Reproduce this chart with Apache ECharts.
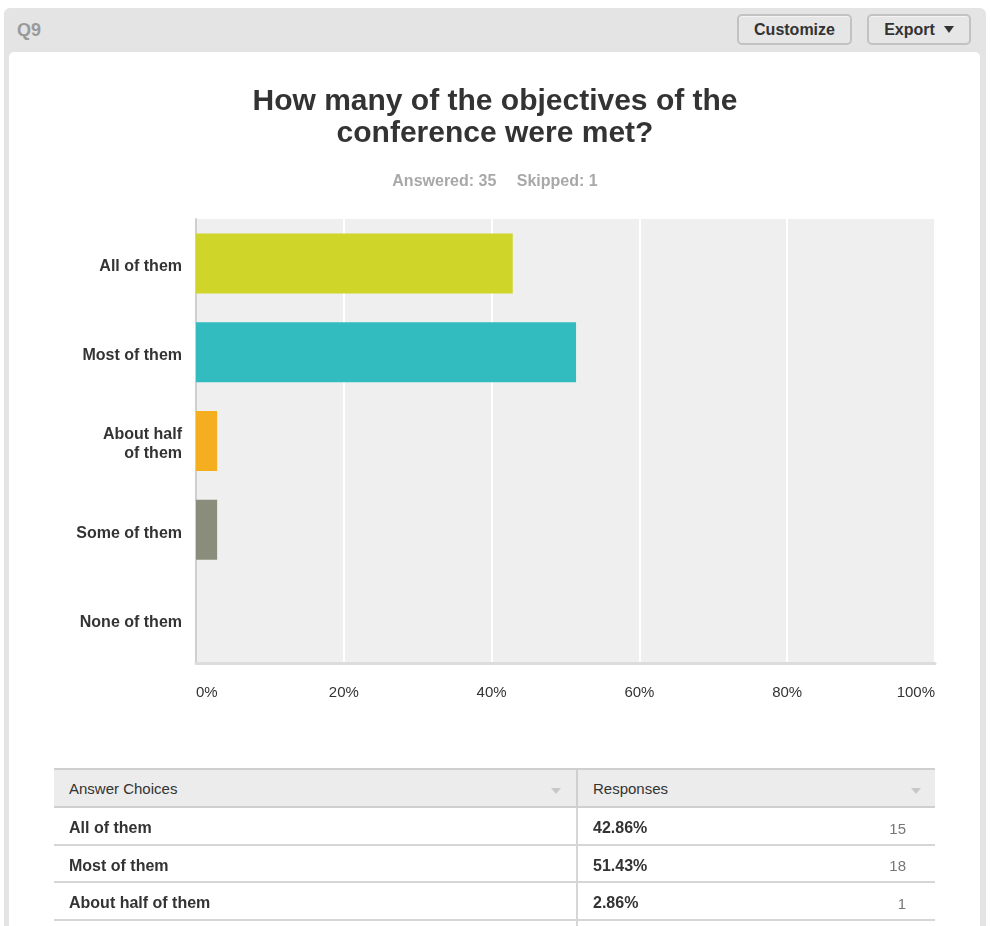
<!DOCTYPE html>
<html>
<head>
<meta charset="utf-8">
<script src="https://cdn.jsdelivr.net/npm/echarts@6/dist/echarts.min.js"></script>
<style>
  html, body { margin: 0; padding: 0; background: #ffffff; width: 990px; height: 926px; overflow: hidden; font-family: "Liberation Sans", Arial, sans-serif; }
  #panel { position: absolute; left: 4px; top: 8px; width: 982px; height: 960px; background: #e4e4e4; border-radius: 6px; }
  #card { position: absolute; left: 9px; top: 52px; width: 971px; height: 920px; background: #ffffff; border-radius: 5px; }
  #q { position: absolute; left: 17px; top: 19px; font-size: 18px; font-weight: bold; color: #9a9a9a; line-height: 22px; }
  .btn { position: absolute; top: 14px; height: 31px; box-sizing: border-box; border: 2px solid #c2c2c2; border-radius: 5px; background: #e6e6e6; font-size: 16px; font-weight: bold; color: #333; line-height: 27px; text-align: center; box-shadow: inset 0 1px 0 #f4f4f4; }
  #b1 { left: 737px; width: 115px; }
  #b2 { left: 867px; width: 104px; }
  .tri { display: inline-block; width: 0; height: 0; border-left: 5px solid transparent; border-right: 5px solid transparent; border-top: 7px solid #333; vertical-align: middle; margin-left: 9px; margin-top: -2px; }
  #chart { position: absolute; left: 0; top: 0; width: 990px; height: 926px; z-index: 2; }
  #tbl { position: absolute; left: 54px; top: 768px; width: 881px; z-index: 3; }
  .row { position: relative; box-sizing: border-box; height: 37.5px; border-bottom: 2px solid #d6d6d6; }
  .head { height: 40px; border-top: 2px solid #cfcfcf; border-bottom: 2px solid #cfcfcf; background: #ececec; }
  .c1 { position: absolute; left: 15px; top: 0; bottom: 0; display: flex; align-items: center; }
  .c2 { position: absolute; left: 539px; top: 0; bottom: 0; display: flex; align-items: center; }
  .c3 { position: absolute; right: 29px; top: 0; bottom: 0; display: flex; align-items: center; font-size: 15px; color: #777; }
  .row:not(.head) .c1, .row:not(.head) .c2, .row:not(.head) .c3 { padding-top: 5px; }
  .div { position: absolute; left: 522px; top: 0; bottom: -2px; width: 2px; background: #d6d6d6; }
  .head .div { background: #cfcfcf; top: 0; bottom: 0; }
  .b { font-size: 16px; font-weight: bold; color: #333; }
  .h { font-size: 15px; color: #333; }
  .dd { position: absolute; top: 18px; width: 0; height: 0; border-left: 5px solid transparent; border-right: 5px solid transparent; border-top: 6px solid #c8c8c8; }
</style>
</head>
<body>
<div id="panel"></div>
<div id="card"></div>
<div id="q">Q9</div>
<div class="btn" id="b1">Customize</div>
<div class="btn" id="b2">Export<span class="tri"></span></div>
<div id="chart"></div>
<div id="tbl"></div>
<script>
// ---- data ----
const categories = ['All of them', 'Most of them', 'About half of them', 'Some of them', 'None of them'];
const axisLabels = ['All of them', 'Most of them', 'About half\nof them', 'Some of them', 'None of them'];
const percents = [42.86, 51.43, 2.86, 2.86, 0.00];
const counts = [15, 18, 1, 1, 0];
const barColors = ['#d0d52a', '#33bcbf', '#f5ae20', '#8a8c7c', '#9ea7ae'];
const xTicks = [0, 20, 40, 60, 80, 100];
const titleText = 'How many of the objectives of the\nconference were met?';
const answered = 35;
const skipped = 1;

// ---- table ----
const tbl = document.getElementById('tbl');
let html = '<div class="row head">' +
  '<div class="c1 h">Answer Choices</div><div class="dd" style="left:497px"></div>' +
  '<div class="div"></div>' +
  '<div class="c2 h">Responses</div><div class="dd" style="left:857px"></div></div>';
categories.forEach((c, i) => {
  html += '<div class="row"><div class="c1 b">' + c + '</div><div class="div"></div>' +
    '<div class="c2 b">' + percents[i].toFixed(2) + '%</div>' +
    '<div class="c3">' + counts[i] + '</div></div>';
});
tbl.innerHTML = html;

// ---- chart ----
const labelShift = 3.5;
const chart = echarts.init(document.getElementById('chart'), null, { renderer: 'canvas' });
chart.setOption({
  backgroundColor: 'transparent',
  animation: false,
  title: [
    {
      text: titleText,
      left: 'center',
      top: 81,
      textStyle: { fontFamily: 'Liberation Sans', fontSize: 30, fontWeight: 'bold', color: '#333333', lineHeight: 32 }
    },
    {
      text: 'Answered: ' + answered + '\u2002\u2002 Skipped: ' + skipped,
      left: 'center',
      top: 167,
      textStyle: { fontFamily: 'Liberation Sans', fontSize: 16, fontWeight: 'bold', color: '#a8a8a8', lineHeight: 20 }
    }
  ],
  grid: [
    {
      left: 196, right: 55, top: 219, bottom: 263,
      show: true, backgroundColor: '#efefef', borderWidth: 0,
      containLabel: false
    },
    {
      left: 196, right: 55, top: 219 + labelShift, bottom: 263 - labelShift,
      show: false, containLabel: false
    }
  ],
  xAxis: [
    {
      type: 'value',
      gridIndex: 0,
      min: xTicks[0],
      max: xTicks[xTicks.length - 1],
      interval: xTicks[1] - xTicks[0],
      axisLine: { show: true, lineStyle: { color: '#dcdcdc', width: 3 } },
      axisTick: { show: false },
      splitLine: { show: true, lineStyle: { color: '#ffffff', width: 2 } },
      axisLabel: {
        formatter: '{value}%',
        margin: 22,
        fontFamily: 'Liberation Sans',
        fontSize: 15,
        color: '#333333',
        alignMinLabel: 'left',
        alignMaxLabel: 'right'
      }
    },
    {
      type: 'value',
      gridIndex: 1,
      min: xTicks[0],
      max: xTicks[xTicks.length - 1],
      show: false
    }
  ],
  yAxis: [
    {
      type: 'category',
      gridIndex: 0,
      inverse: true,
      data: categories,
      axisLine: { show: true, lineStyle: { color: '#cfcfcf', width: 2 } },
      axisTick: { show: false },
      splitLine: { show: false },
      axisLabel: { show: false }
    },
    {
      type: 'category',
      gridIndex: 1,
      inverse: true,
      data: categories,
      axisLine: { show: false },
      axisTick: { show: false },
      splitLine: { show: false },
      axisLabel: {
        formatter: (v, i) => axisLabels[i],
        margin: 14,
        fontFamily: 'Liberation Sans',
        fontSize: 16,
        fontWeight: 'bold',
        color: '#333333',
        lineHeight: 19,
        align: 'right'
      }
    }
  ],
  series: [{
    type: 'bar',
    xAxisIndex: 0,
    yAxisIndex: 0,
    barWidth: 60,
    data: percents.map((v, i) => ({ value: v, itemStyle: { color: barColors[i] } })),
    label: { show: false }
  }]
});
</script>
</body>
</html>
